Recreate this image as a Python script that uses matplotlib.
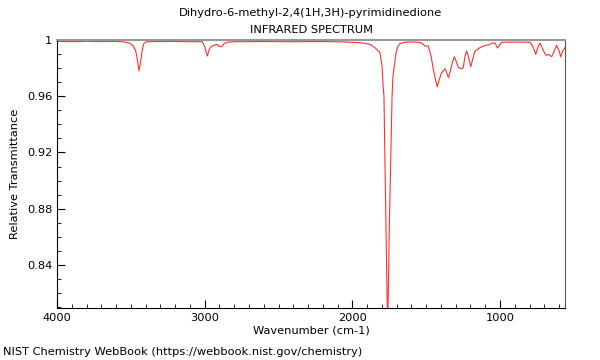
import numpy as np
import matplotlib
matplotlib.use("Agg")
import matplotlib.pyplot as plt
from matplotlib.ticker import MultipleLocator, FuncFormatter

# spectrum: wavenumber (cm-1) / relative transmittance
wavenumber = [4000, 3900, 3800, 3700, 3600, 3540, 3506, 3483, 3467, 3456, 3445, 3433,
              3422, 3411, 3393, 3300, 3200, 3100, 3016, 3002, 2982, 2969, 2952, 2935,
              2918, 2903, 2885, 2867, 2840, 2795, 2600, 2400, 2200, 2050, 1948, 1880,
              1847, 1813, 1799, 1792, 1786, 1772, 1767, 1761, 1755, 1750, 1731, 1725,
              1713, 1704, 1691, 1677, 1643, 1589, 1555, 1528, 1508, 1486, 1467, 1452,
              1435, 1425, 1411, 1395, 1372, 1361, 1350, 1339, 1323, 1310, 1293, 1282,
              1259, 1249, 1237, 1226, 1215, 1198, 1185, 1169, 1147, 1124, 1102, 1079,
              1056, 1034, 1017, 989, 900, 797, 779, 758, 741, 729, 711, 689,
              673, 650, 628, 616, 600, 589, 575, 560]
transmittance = [0.9990, 0.9988, 0.9991, 0.9989, 0.9990, 0.9986, 0.9977, 0.9957, 0.9922, 0.9863, 0.9780, 0.9851,
                 0.9934, 0.9977, 0.9988, 0.9989, 0.9990, 0.9988, 0.9988, 0.9957, 0.9886, 0.9934, 0.9957, 0.9962,
                 0.9969, 0.9957, 0.9952, 0.9977, 0.9985, 0.9988, 0.9989, 0.9988, 0.9989, 0.9986, 0.9981, 0.9969,
                 0.9945, 0.9910, 0.9815, 0.9673, 0.9602, 0.8650, 0.8300, 0.8000, 0.8300, 0.8650, 0.9602, 0.9744,
                 0.9839, 0.9910, 0.9957, 0.9975, 0.9984, 0.9986, 0.9984, 0.9977, 0.9957, 0.9957, 0.9886, 0.9792,
                 0.9709, 0.9666, 0.9721, 0.9768, 0.9796, 0.9768, 0.9732, 0.9768, 0.9839, 0.9881, 0.9839, 0.9803,
                 0.9796, 0.9803, 0.9886, 0.9922, 0.9886, 0.9810, 0.9863, 0.9922, 0.9938, 0.9952, 0.9962, 0.9964,
                 0.9977, 0.9979, 0.9943, 0.9984, 0.9985, 0.9984, 0.9957, 0.9898, 0.9957, 0.9977, 0.9934, 0.9891,
                 0.9898, 0.9881, 0.9934, 0.9962, 0.9922, 0.9881, 0.9922, 0.9945]

xticks = [4000, 3000, 2000, 1000]
yticks = [0.84, 0.88, 0.92, 0.96, 1.0]

fs = 8.2
fig = plt.figure(figsize=(6, 3.6), dpi=100)
ax = fig.add_axes([57/600, 1-308/360, 508/600, 268/360])
ax.plot(wavenumber, transmittance, color='#ff3030', lw=0.8)

ax.set_xlim(4000, 560)
ax.set_ylim(0.8094, 1.0)
ax.set_xticks(xticks)
ax.set_yticks(yticks)
ax.xaxis.set_minor_locator(MultipleLocator(100))
ax.yaxis.set_minor_locator(MultipleLocator(0.01))
ax.yaxis.set_major_formatter(FuncFormatter(lambda v, p: '{:g}'.format(round(v, 2))))
ax.tick_params(which='both', direction='in', labelsize=fs, top=False, right=False)
ax.tick_params(which='major', length=6, width=0.8)
ax.tick_params(which='minor', length=3, width=0.6)

ax.spines['top'].set_color('#999999')
ax.spines['top'].set_linewidth(1.5)
ax.spines['right'].set_color('#555555')
ax.spines['right'].set_linewidth(0.8)

ax.set_xlabel('Wavenumber (cm-1)', fontsize=fs, labelpad=2)
ax.set_ylabel('Relative Transmittance', fontsize=fs, labelpad=5)

fig.text(311/600, 1-13/360, 'Dihydro-6-methyl-2,4(1H,3H)-pyrimidinedione', fontsize=fs, ha='center', va='center')
fig.text(311/600, 1-30/360, 'INFRARED SPECTRUM', fontsize=fs, ha='center', va='center')
fig.text(3/600, 1-352/360, 'NIST Chemistry WebBook (https://webbook.nist.gov/chemistry)', fontsize=fs, ha='left', va='center')

fig.savefig('out.png', dpi=100)
